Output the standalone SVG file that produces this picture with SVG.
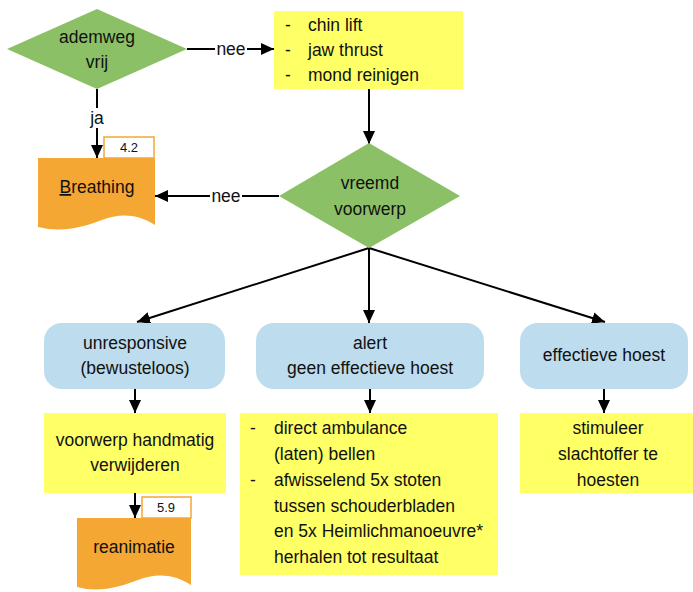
<svg xmlns="http://www.w3.org/2000/svg" width="693" height="592" viewBox="0 0 693 592">
<defs>
<marker id="ah" markerWidth="13" markerHeight="12" refX="13" refY="6" orient="auto" markerUnits="userSpaceOnUse">
<path d="M0,0 L13,6 L0,12 Z" fill="#000"/>
</marker>
<style>
text{font-family:"Liberation Sans",Arial,sans-serif;font-size:17.5px;fill:#111;}
.c{text-anchor:middle;}
.dia{fill:#8CC066;}
.yel{fill:#FFFF66;}
.blue{fill:#BDDCEE;}
.doc{fill:#F5A734;}
.tab{fill:#fff;stroke:#F5A734;stroke-width:1.5;}
.tt{font-size:13px;}
.ln{stroke:#000;stroke-width:2;fill:none;}
.lbl{fill:#fff;}
</style>
</defs>
<rect width="693" height="592" fill="#fff"/>

<g id="connectors">
<line class="ln" x1="187" y1="49" x2="274" y2="49" marker-end="url(#ah)"/>
<line class="ln" x1="97" y1="89" x2="97" y2="158" marker-end="url(#ah)"/>
<line class="ln" x1="369" y1="89" x2="369" y2="144" marker-end="url(#ah)"/>
<line class="ln" x1="279" y1="196" x2="155" y2="196" marker-end="url(#ah)"/>
<line class="ln" x1="369" y1="248" x2="137" y2="322" marker-end="url(#ah)"/>
<line class="ln" x1="369" y1="248" x2="369" y2="323" marker-end="url(#ah)"/>
<line class="ln" x1="369" y1="248" x2="605" y2="322" marker-end="url(#ah)"/>
<line class="ln" x1="135" y1="389" x2="135" y2="413" marker-end="url(#ah)"/>
<line class="ln" x1="370" y1="389" x2="370" y2="413" marker-end="url(#ah)"/>
<line class="ln" x1="604" y1="389" x2="604" y2="413" marker-end="url(#ah)"/>
<line class="ln" x1="135" y1="493" x2="135" y2="518" marker-end="url(#ah)"/>
<rect class="lbl" x="215" y="40" width="32" height="18"/>
<text class="c" x="231" y="55">nee</text>
<rect class="lbl" x="88" y="108" width="18" height="20"/>
<text class="c" x="97" y="124">ja</text>
<rect class="lbl" x="210" y="187" width="32" height="18"/>
<text class="c" x="226" y="202">nee</text>
</g>

<g id="ademweg">
<polygon class="dia" points="7,49 97,9 187,49 97,89"/>
<text class="c" x="97" y="43">ademweg</text>
<text class="c" x="97" y="68">vrij</text>
</g>

<g id="airway-actions">
<rect class="yel" x="274" y="11" width="189" height="78"/>
<text x="285" y="31">-</text><text x="308" y="31">chin lift</text>
<text x="285" y="56">-</text><text x="308" y="56">jaw thrust</text>
<text x="285" y="81">-</text><text x="308" y="81">mond reinigen</text>
</g>

<g id="vreemd">
<polygon class="dia" points="279,196 369,143 460,196 369,248"/>
<text class="c" x="370" y="189">vreemd</text>
<text class="c" x="370" y="215">voorwerp</text>
</g>

<g id="breathing">
<rect class="tab" x="104" y="137" width="50" height="21"/>
<text class="c tt" x="129" y="152">4.2</text>
<path class="doc" d="M38,158 H155 V225 C138,214 120,213 102,220 C84,227 62,233 38,227 Z"/>
<text class="c" x="97" y="193"><tspan text-decoration="underline">B</tspan>reathing</text>
</g>

<g id="unresponsive">
<rect class="blue" x="44" y="323" width="181" height="66" rx="18"/>
<text class="c" x="135" y="349">unresponsive</text>
<text class="c" x="135" y="374">(bewusteloos)</text>
</g>

<g id="alert">
<rect class="blue" x="256" y="323" width="228" height="66" rx="18"/>
<text class="c" x="370" y="349">alert</text>
<text class="c" x="370" y="374">geen effectieve hoest</text>
</g>

<g id="effectief">
<rect class="blue" x="520" y="323" width="168" height="66" rx="18"/>
<text class="c" x="604" y="361">effectieve hoest</text>
</g>

<g id="handmatig">
<rect class="yel" x="44" y="413" width="182" height="80"/>
<text class="c" x="135" y="446">voorwerp handmatig</text>
<text class="c" x="135" y="471">verwijderen</text>
</g>

<g id="ambulance">
<rect class="yel" x="240" y="413" width="258" height="162"/>
<text x="250" y="434">-</text><text x="274" y="434">direct ambulance</text>
<text x="274" y="460">(laten) bellen</text>
<text x="250" y="486">-</text><text x="274" y="486">afwisselend 5x stoten</text>
<text x="274" y="512">tussen schouderbladen</text>
<text x="274" y="537">en 5x Heimlichmanoeuvre*</text>
<text x="274" y="563">herhalen tot resultaat</text>
</g>

<g id="stimuleer">
<rect class="yel" x="520" y="413" width="173" height="80"/>
<text class="c" x="608" y="434">stimuleer</text>
<text class="c" x="608" y="460">slachtoffer te</text>
<text class="c" x="608" y="486">hoesten</text>
</g>

<g id="reanimatie">
<rect class="tab" x="142" y="497" width="49" height="21"/>
<text class="c tt" x="166" y="512">5.9</text>
<path class="doc" d="M77,518 H191 V585 C174,574 156,573 138,580 C120,587 99,593 77,587 Z"/>
<text class="c" x="134" y="553">reanimatie</text>
</g>
</svg>
